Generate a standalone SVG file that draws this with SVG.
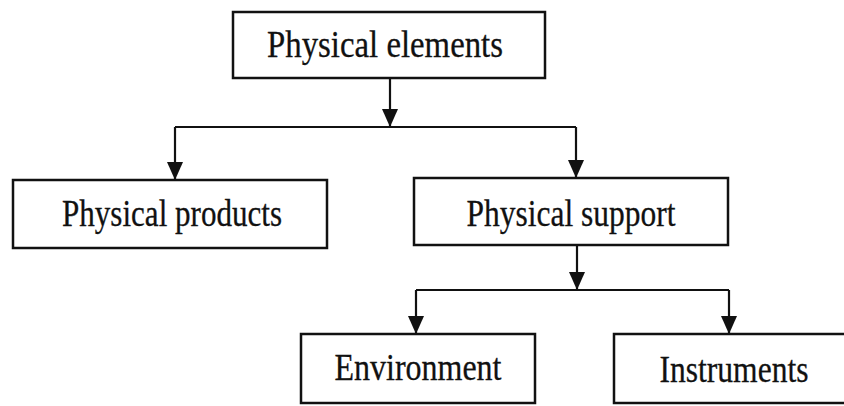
<svg xmlns="http://www.w3.org/2000/svg" width="844" height="406" viewBox="0 0 844 406">
<style>
.box{fill:#fff;stroke:#111;stroke-width:2.5}
.lbl{font-family:"Liberation Serif","Times New Roman",serif;font-size:38px;fill:#111;text-anchor:middle;stroke:#111;stroke-width:0.3}
.con{fill:none;stroke:#111;stroke-width:2.2}
</style>
<defs>
<marker id="ah" markerUnits="userSpaceOnUse" markerWidth="18" markerHeight="16" viewBox="0 0 18 16" refX="18" refY="8" orient="auto">
<path d="M0,0 L18,8 L0,16 z" fill="#111"/>
</marker>
</defs>
<rect width="844" height="406" fill="#fff"/>
<g id="connectors">
<path class="con" d="M390,78 V127" marker-end="url(#ah)"/>
<path class="con" d="M175,127 H576"/>
<path class="con" d="M175,127 V180" marker-end="url(#ah)"/>
<path class="con" d="M576,127 V178" marker-end="url(#ah)"/>
<path class="con" d="M577,245 V290" marker-end="url(#ah)"/>
<path class="con" d="M416,290 H729"/>
<path class="con" d="M416,290 V334" marker-end="url(#ah)"/>
<path class="con" d="M729,290 V334" marker-end="url(#ah)"/>
</g>
<g id="physical-elements">
<rect class="box" x="233" y="12" width="312" height="66"/>
<text class="lbl" x="385" y="57" textLength="236" lengthAdjust="spacingAndGlyphs">Physical elements</text>
</g>
<g id="physical-products">
<rect class="box" x="13" y="180" width="314" height="68"/>
<text class="lbl" x="172" y="226" textLength="220" lengthAdjust="spacingAndGlyphs">Physical products</text>
</g>
<g id="physical-support">
<rect class="box" x="414" y="178" width="314" height="67"/>
<text class="lbl" x="571" y="226" textLength="209" lengthAdjust="spacingAndGlyphs">Physical support</text>
</g>
<g id="environment">
<rect class="box" x="301" y="334" width="234" height="69"/>
<text class="lbl" x="418" y="380" textLength="167" lengthAdjust="spacingAndGlyphs">Environment</text>
</g>
<g id="instruments">
<rect class="box" x="614" y="334" width="240" height="69"/>
<text class="lbl" x="734" y="382" textLength="149" lengthAdjust="spacingAndGlyphs">Instruments</text>
</g>
</svg>
